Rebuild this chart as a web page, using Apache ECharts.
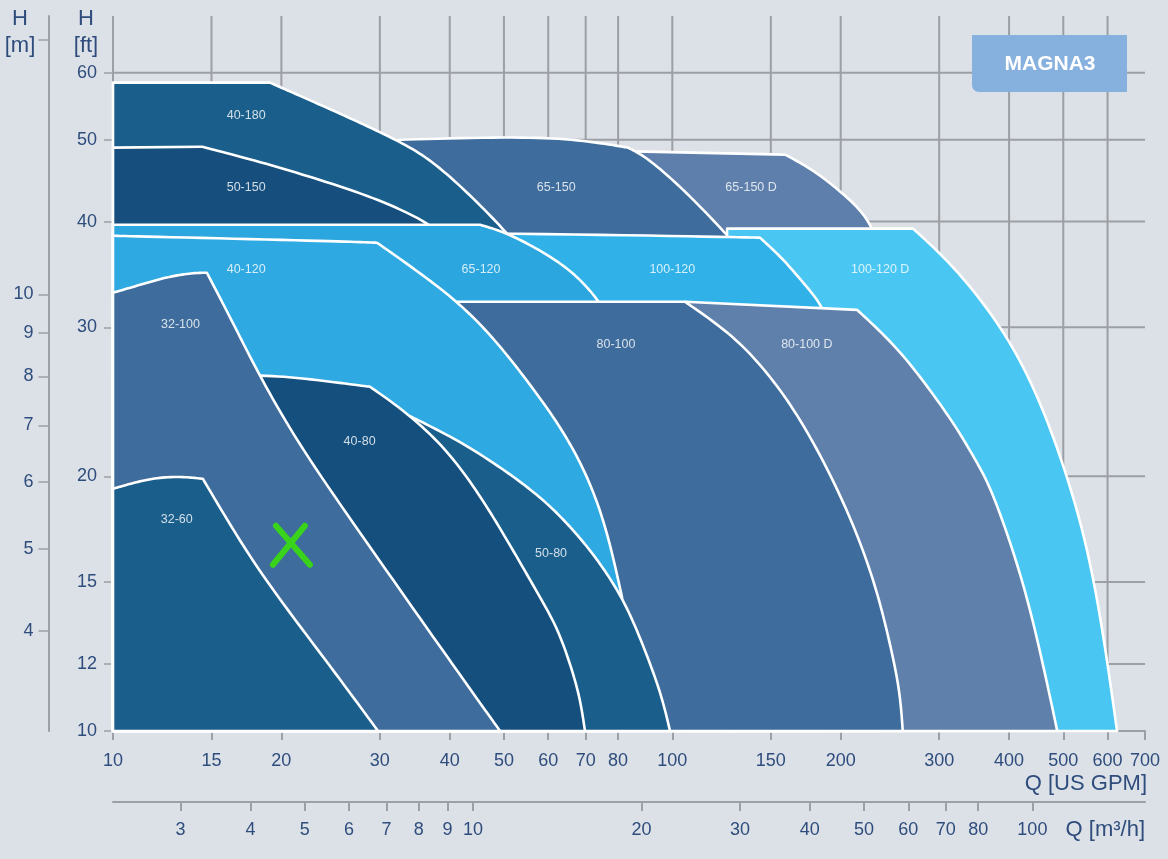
<!DOCTYPE html>
<html>
<head>
<meta charset="utf-8">
<title>MAGNA3</title>
<script src="https://cdn.jsdelivr.net/npm/echarts@6/dist/echarts.min.js"></script>
<style>
    html, body { margin: 0; padding: 0; background: #dce0e7; }
    #chart { width: 1168px; height: 859px; }
</style>
</head>
<body>
<div id="chart"></div>
<script>
// Q in US GPM, H in ft (second axes are the same scale in m3/h and m)
var GPM_PER_M3H = 4.402868;
var M_PER_FT = 0.3048;

var qTicks = [10, 15, 20, 30, 40, 50, 60, 70, 80, 100, 150, 200, 300, 400, 500, 600, 700];
var hTicks = [10, 12, 15, 20, 30, 40, 50, 60];
var mTicks = [4, 5, 6, 7, 8, 9, 10, 20];
var mLabels = [4, 5, 6, 7, 8, 9, 10];
var m3hTicks = [3, 4, 5, 6, 7, 8, 9, 10, 20, 30, 40, 50, 60, 70, 80, 100];
var gridQ = [10, 15, 20, 30, 40, 50, 60, 70, 80, 100, 150, 200, 300, 400, 500, 600];
var gridH = [12, 15, 20, 30, 40, 50, 60];

// pump ranges, each one is a list of runs of [Q, H] points
// (a run is one smooth edge, corners sit between runs), listed back to front
var r65_150D = [
    [[74.26, 48.52], [159.1, 48.0]],
    [[159.1, 48.0], [178.5, 46.08], [201.2, 43.28], [216.7, 41.32], [226.8, 39.56], [233.4, 37.56]]
];
var r65_150 = [
    [[28.8, 49.86], [49.8, 50.41], [66.7, 50.14], [83.32, 48.92]],
    [[83.32, 48.92], [89.74, 47.74], [103.6, 43.99], [123.9, 38.92], [129.5, 37.56]]
];
var r40_180 = [
    [[10, 58.39], [19.08, 58.39]],
    [[19.08, 58.39], [23.44, 55.0], [27.63, 52.37], [32.59, 49.73], [37.04, 47.35], [43.49, 43.04], [50.43, 38.92], [53.43, 37.05]]
];
var r50_150 = [
    [[10, 48.92], [14.42, 49.05]],
    [[14.42, 49.05], [18.31, 47.09], [23.44, 44.84], [30.01, 42.47], [37.04, 39.77], [39.23, 38.08]]
];
var r100_120D = [
    [[125.3, 39.24], [269.5, 39.24]],
    [[269.5, 39.24], [322.9, 35.19], [396.7, 29.47], [454.8, 24.6], [508.3, 20.03], [551.4, 16.59], [589, 13.13], [623.9, 10]]
];
var r100_120 = [
    [[10, 38.81], [50.64, 38.81], [143.5, 38.29]],
    [[143.5, 38.29], [157.7, 36.16], [171.3, 33.88], [185.3, 31.9], [191.4, 29.8]]
];
var r65_120 = [
    [[10, 39.66], [45.31, 39.66]],
    [[45.31, 39.66], [50.64, 38.81], [58.73, 36.85], [66.43, 34.9], [73.33, 32.51], [77.37, 30.62]]
];
var r80_100D = [
    [[105.4, 32.16], [214, 31.46]],
    [[214, 31.46], [252.2, 28.45], [288.9, 25.31], [322.8, 22.82], [355, 20.47], [374.5, 19.12], [423.7, 15.13], [460.5, 11.97], [487.8, 10]]
];
var r80_100 = [
    [[10, 32.16], [105.4, 32.16]],
    [[105.4, 32.16], [126.8, 29.55], [145.3, 26.95], [167.1, 23.77], [191.4, 20.19], [214, 17.14], [232.2, 14.68], [244.9, 12.71], [255.2, 11.18], [258.2, 10]]
];
var r40_120 = [
    [[10, 38.49], [23.44, 37.97], [29.64, 37.77]],
    [[29.64, 37.77], [33.97, 35.47], [41.73, 32.07], [49.2, 28.6], [57.98, 24.77], [62.99, 22.89], [68.37, 20.86], [73.33, 18.76], [77.37, 16.69], [81.29, 14.4]]
];
var r50_80 = [
    [[10, 23.55], [33.97, 23.55]],
    [[33.97, 23.55], [41.73, 22.03], [51.27, 20.14], [57.98, 18.91], [62.99, 17.96], [68.37, 16.92], [74.26, 15.8], [81.29, 14.4], [86.47, 13.16], [91.2, 12.03], [95.84, 10.97], [99.06, 10]]
];
var r40_80 = [
    [[10, 26.37], [18.31, 26.37], [21.59, 26.15], [28.8, 25.52]],
    [[28.8, 25.52], [33.97, 23.65], [40.05, 21.32], [45.86, 18.76], [51.27, 16.59], [57.98, 14.4], [62.21, 13.27], [65.62, 12.03], [68.37, 10.97], [69.8, 10]]
];
var r32_100 = [
    [[10, 32.96], [11.18, 33.68], [12.49, 34.42], [13.9, 34.8], [14.72, 34.8]],
    [[14.72, 34.8], [16.39, 30.37], [18.31, 26.22], [21.59, 21.67], [28.45, 16.69], [37.34, 12.92], [49.2, 10]]
];
var r32_60 = [
    [[10, 19.33], [10.86, 19.65], [12.13, 19.97], [13.56, 19.97], [14.48, 19.86]],
    [[14.48, 19.86], [16.39, 17.29], [18.85, 14.96], [24.75, 11.81], [29.77, 10]]
];

var regionNames = ['65-150 D', '65-150', '40-180', '50-150', '100-120 D', '100-120', '65-120',
    '80-100 D', '80-100', '40-120', '50-80', '40-80', '32-100', '32-60'];
var labelQ = [138.3, 62.0, 17.3, 17.3, 235.3, 100, 45.5, 174, 79.3, 17.3, 60.7, 27.6, 13.2, 13.0];
var labelH = [43.9, 43.9, 53.4, 43.9, 35.1, 35.1, 35.1, 28.6, 28.6, 35.1, 16.2, 22.0, 30.2, 17.8];

// duty point marked with the green cross
var marker = [20.8, 16.6];

var regions = [r65_150D, r65_150, r40_180, r50_150, r100_120D, r100_120, r65_120,
    r80_100D, r80_100, r40_120, r50_80, r40_80, r32_100, r32_60];
var regionColors = ['#5e7fab', '#3e6c9c', '#1a5f8b', '#164f7d', '#49c6f2', '#30b2e8', '#2ba6de',
    '#5e80ab', '#3e6c9c', '#2ea9e1', '#1a5e8b', '#144f7e', '#3e6c9c', '#1a5e8b'];

var textColor = '#2e4d7c';
var gridColor = '#9c9fa4';
var font = 'Liberation Sans';

// cubic b-spline over the pixel points of one run, clamped to both ends
function smoothRun(p) {
    if (p.length < 3) return p.slice();
    var n = p.length - 1;
    var c = [p[0], p[0]].concat(p, [p[n], p[n]]);
    var out = [];
    for (var i = 0; i < c.length - 3; i++) {
        var a = c[i], b = c[i + 1], d = c[i + 2], e = c[i + 3];
        for (var k = (i === 0 ? 0 : 1); k <= 10; k++) {
            var t = k / 10, t2 = t * t, t3 = t2 * t, u = 1 - t;
            var w0 = u * u * u / 6;
            var w1 = (3 * t3 - 6 * t2 + 4) / 6;
            var w2 = (-3 * t3 + 3 * t2 + 3 * t + 1) / 6;
            var w3 = t3 / 6;
            out.push([
                w0 * a[0] + w1 * b[0] + w2 * d[0] + w3 * e[0],
                w0 * a[1] + w1 * b[1] + w2 * d[1] + w3 * e[1]
            ]);
        }
    }
    return out;
}

function renderRegion(params, api) {
    var i = params.dataIndex;
    var runs = regions[i];
    var pts = [];
    runs.forEach(function (run) {
        var pix = run.map(function (d) { return api.coord(d); });
        var s = smoothRun(pix);
        if (pts.length) s = s.slice(1);
        pts = pts.concat(s);
    });
    var lastRun = runs[runs.length - 1];
    var last = lastRun[lastRun.length - 1];
    var first = runs[0][0];
    pts.push(api.coord([last[0], 10]));
    pts.push(api.coord([first[0], 10]));
    return {
        type: 'polygon',
        z2: i,
        shape: { points: pts },
        style: { fill: regionColors[i], stroke: '#ffffff', lineWidth: 2.6, lineJoin: 'round' }
    };
}

function renderGrid(params, api) {
    var children = [];
    gridQ.forEach(function (q) {
        var a = api.coord([q, 10]), b = api.coord([q, 70]);
        children.push({ type: 'line', shape: { x1: a[0], y1: a[1], x2: b[0], y2: b[1] },
            style: { stroke: gridColor, lineWidth: 2 } });
    });
    gridH.forEach(function (h) {
        var a = api.coord([10, h]), b = api.coord([700, h]);
        children.push({ type: 'line', shape: { x1: a[0], y1: a[1], x2: b[0], y2: b[1] },
            style: { stroke: gridColor, lineWidth: 2 } });
    });
    return { type: 'group', children: children };
}

function renderMarker(params, api) {
    var c = api.coord(marker);
    var st = { stroke: '#38d31a', lineWidth: 6, lineCap: 'round' };
    return {
        type: 'group',
        children: [
            { type: 'line', shape: { x1: c[0] - 15, y1: c[1] - 19, x2: c[0] + 19, y2: c[1] + 20 }, style: st },
            { type: 'line', shape: { x1: c[0] + 14, y1: c[1] - 19, x2: c[0] - 18, y2: c[1] + 20 }, style: st }
        ]
    };
}

var chart = echarts.init(document.getElementById('chart'));
var option = {
    backgroundColor: '#dce0e7',
    animation: false,
    grid: { left: 113, right: 23, top: 16, bottom: 128, outerBoundsMode: 'none' },
    xAxis: [
        {
            type: 'log', logBase: 10, min: 10, max: 700, position: 'bottom',
            axisLine: { show: true, lineStyle: { color: gridColor, width: 2 } },
            axisTick: { show: true, length: 9, customValues: qTicks, lineStyle: { color: gridColor, width: 2 } },
            axisLabel: { customValues: qTicks, margin: 21, color: textColor, fontSize: 18, fontFamily: font },
            splitLine: { show: false },
            minorTick: { show: false }
        },
        {
            type: 'log', logBase: 10, min: 10 / GPM_PER_M3H, max: 700 / GPM_PER_M3H,
            position: 'bottom', offset: 71,
            axisLine: { show: true, lineStyle: { color: gridColor, width: 2 } },
            axisTick: { show: true, length: 9, customValues: m3hTicks, lineStyle: { color: gridColor, width: 2 } },
            axisLabel: { customValues: m3hTicks, margin: 19, color: textColor, fontSize: 18, fontFamily: font },
            splitLine: { show: false },
            minorTick: { show: false }
        }
    ],
    yAxis: [
        {
            type: 'log', logBase: 10, min: 10, max: 70, position: 'left',
            axisLine: { show: false },
            axisTick: { show: true, length: 9, customValues: hTicks, lineStyle: { color: gridColor, width: 1.5 } },
            axisLabel: { customValues: hTicks, margin: 16, color: textColor, fontSize: 18, fontFamily: font },
            splitLine: { show: false },
            minorTick: { show: false }
        },
        {
            type: 'log', logBase: 10, min: 10 * M_PER_FT, max: 70 * M_PER_FT,
            position: 'left', offset: 64.5,
            axisLine: { show: true, lineStyle: { color: gridColor, width: 2 } },
            axisTick: { show: true, length: 10, customValues: mTicks, lineStyle: { color: gridColor, width: 1.5 } },
            axisLabel: { customValues: mLabels, margin: 15, color: textColor, fontSize: 18, fontFamily: font },
            splitLine: { show: false },
            minorTick: { show: false }
        }
    ],
    graphic: [
        { type: 'text', x: 20, y: 5, style: { text: 'H\n[m]', align: 'center', verticalAlign: 'top',
            font: '22px "Liberation Sans"', lineHeight: 27, fill: textColor } },
        { type: 'text', x: 86, y: 5, style: { text: 'H\n[ft]', align: 'center', verticalAlign: 'top',
            font: '22px "Liberation Sans"', lineHeight: 27, fill: textColor } },
        { type: 'text', x: 1147, y: 784, style: { text: 'Q [US GPM]', align: 'right', verticalAlign: 'middle',
            font: '22px "Liberation Sans"', fill: textColor } },
        { type: 'text', x: 1145, y: 830, style: { text: 'Q [m³/h]', align: 'right', verticalAlign: 'middle',
            font: '22px "Liberation Sans"', fill: textColor } },
        { type: 'rect', x: 972, y: 35, shape: { width: 155, height: 57, r: [0, 0, 0, 7] },
            style: { fill: '#86b0dd' }, z: 10 },
        { type: 'text', x: 1050, y: 64, z: 11, style: { text: 'MAGNA3', align: 'center', verticalAlign: 'middle',
            font: 'bold 21px "Liberation Sans"', fill: '#ffffff' } }
    ],
    series: [
        {
            type: 'custom', name: 'grid', silent: true, z: 1, clip: false,
            data: [[10, 10]],
            renderItem: renderGrid
        },
        {
            type: 'custom', name: 'ranges', silent: true, z: 2,
            data: regions.map(function (r, i) { return [r[0][0][0], r[0][0][1], i]; }),
            renderItem: renderRegion
        },
        {
            type: 'scatter', name: 'labels', silent: true, z: 3, symbolSize: 0,
            data: regionNames.map(function (n, i) { return { name: n, value: [labelQ[i], labelH[i]] }; }),
            label: { show: true, position: 'inside', formatter: '{b}', color: '#ffffff',
                fontSize: 12.5, fontFamily: font }
        },
        {
            type: 'custom', name: 'duty point', silent: true, z: 4, clip: false,
            data: [marker],
            renderItem: renderMarker
        }
    ]
};
chart.setOption(option);
</script>
</body>
</html>
